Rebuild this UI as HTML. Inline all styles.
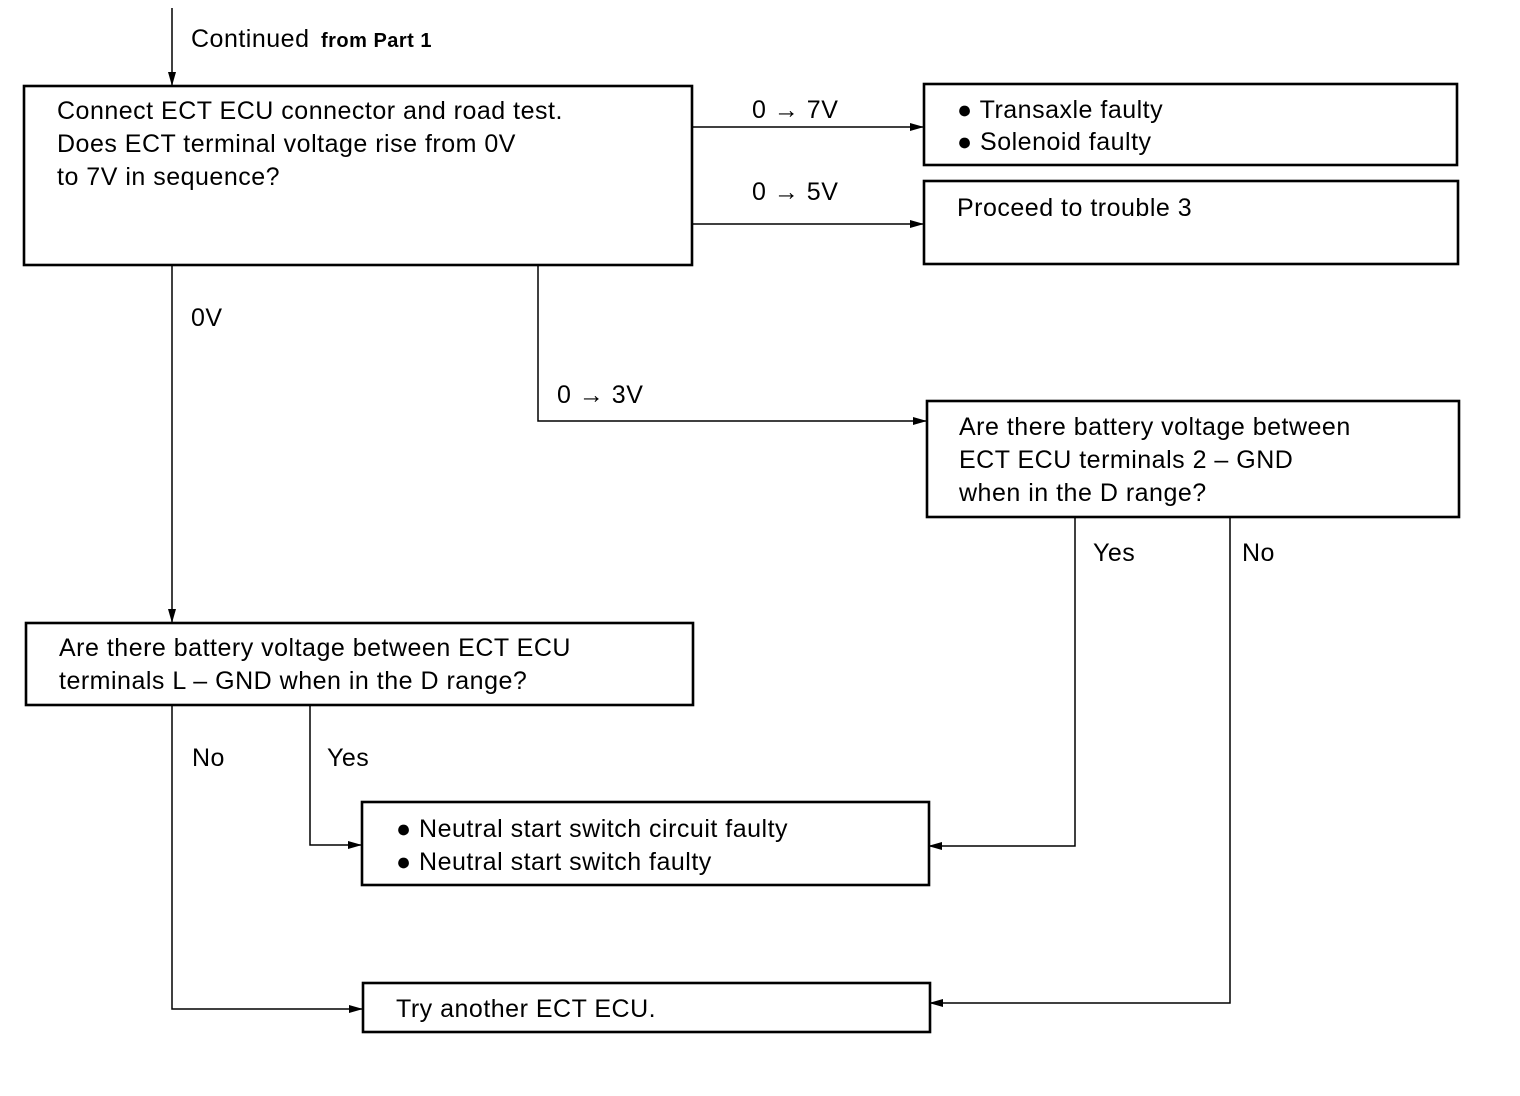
<!DOCTYPE html>
<html><head><meta charset="utf-8"><style>
html,body{margin:0;padding:0;background:#fff;}
svg{display:block;}
text{font-family:"Liberation Sans",sans-serif;font-size:25px;fill:#000;letter-spacing:0.5px;}
</style></head><body>
<svg width="1520" height="1096" viewBox="0 0 1520 1096" xmlns="http://www.w3.org/2000/svg">
<defs>
<marker id="a" markerWidth="14" markerHeight="8" refX="13" refY="4" orient="auto" markerUnits="userSpaceOnUse">
<path d="M0,0 L14,4 L0,8 Z" fill="#000"/></marker>
</defs>
<g fill="none" stroke="#000" stroke-width="2.6">
<rect x="24" y="86" width="668" height="179"/>
<rect x="924" y="84" width="533" height="81"/>
<rect x="924" y="181" width="534" height="83"/>
<rect x="927" y="401" width="532" height="116"/>
<rect x="26" y="623" width="667" height="82"/>
<rect x="362" y="802" width="567" height="83"/>
<rect x="363" y="983" width="567" height="49"/>
</g>
<g fill="none" stroke="#000" stroke-width="1.5">
<line x1="172" y1="8" x2="172" y2="85" marker-end="url(#a)"/>
<line x1="692" y1="127" x2="923" y2="127" marker-end="url(#a)"/>
<line x1="692" y1="224" x2="923" y2="224" marker-end="url(#a)"/>
<line x1="172" y1="265" x2="172" y2="622" marker-end="url(#a)"/>
<polyline points="538,265 538,421 926,421" marker-end="url(#a)"/>
<polyline points="1075,517 1075,846 929,846" marker-end="url(#a)"/>
<polyline points="1230,517 1230,1003 930,1003" marker-end="url(#a)"/>
<polyline points="172,705 172,1009 362,1009" marker-end="url(#a)"/>
<polyline points="310,705 310,845 361,845" marker-end="url(#a)"/>
</g>
<text x="191" y="47">Continued <tspan style="font-size:20px;font-weight:bold" dx="4">from Part 1</tspan></text>
<text x="57" y="119">Connect ECT ECU connector and road test.</text>
<text x="57" y="152">Does ECT terminal voltage rise from 0V</text>
<text x="57" y="185">to 7V in sequence?</text>
<text x="752" y="118">0 → 7V</text>
<text x="752" y="200">0 → 5V</text>
<text x="957" y="118">● Transaxle faulty</text>
<text x="957" y="150">● Solenoid faulty</text>
<text x="957" y="216">Proceed to trouble 3</text>
<text x="191" y="326">0V</text>
<text x="557" y="403">0 → 3V</text>
<text x="959" y="435">Are there battery voltage between</text>
<text x="959" y="468">ECT ECU terminals 2 – GND</text>
<text x="959" y="501">when in the D range?</text>
<text x="1093" y="561">Yes</text>
<text x="1242" y="561">No</text>
<text x="59" y="656">Are there battery voltage between ECT ECU</text>
<text x="59" y="689">terminals L – GND when in the D range?</text>
<text x="192" y="766">No</text>
<text x="327" y="766">Yes</text>
<text x="396" y="837">● Neutral start switch circuit faulty</text>
<text x="396" y="870">● Neutral start switch faulty</text>
<text x="396" y="1017">Try another ECT ECU.</text>
</svg>
</body></html>
